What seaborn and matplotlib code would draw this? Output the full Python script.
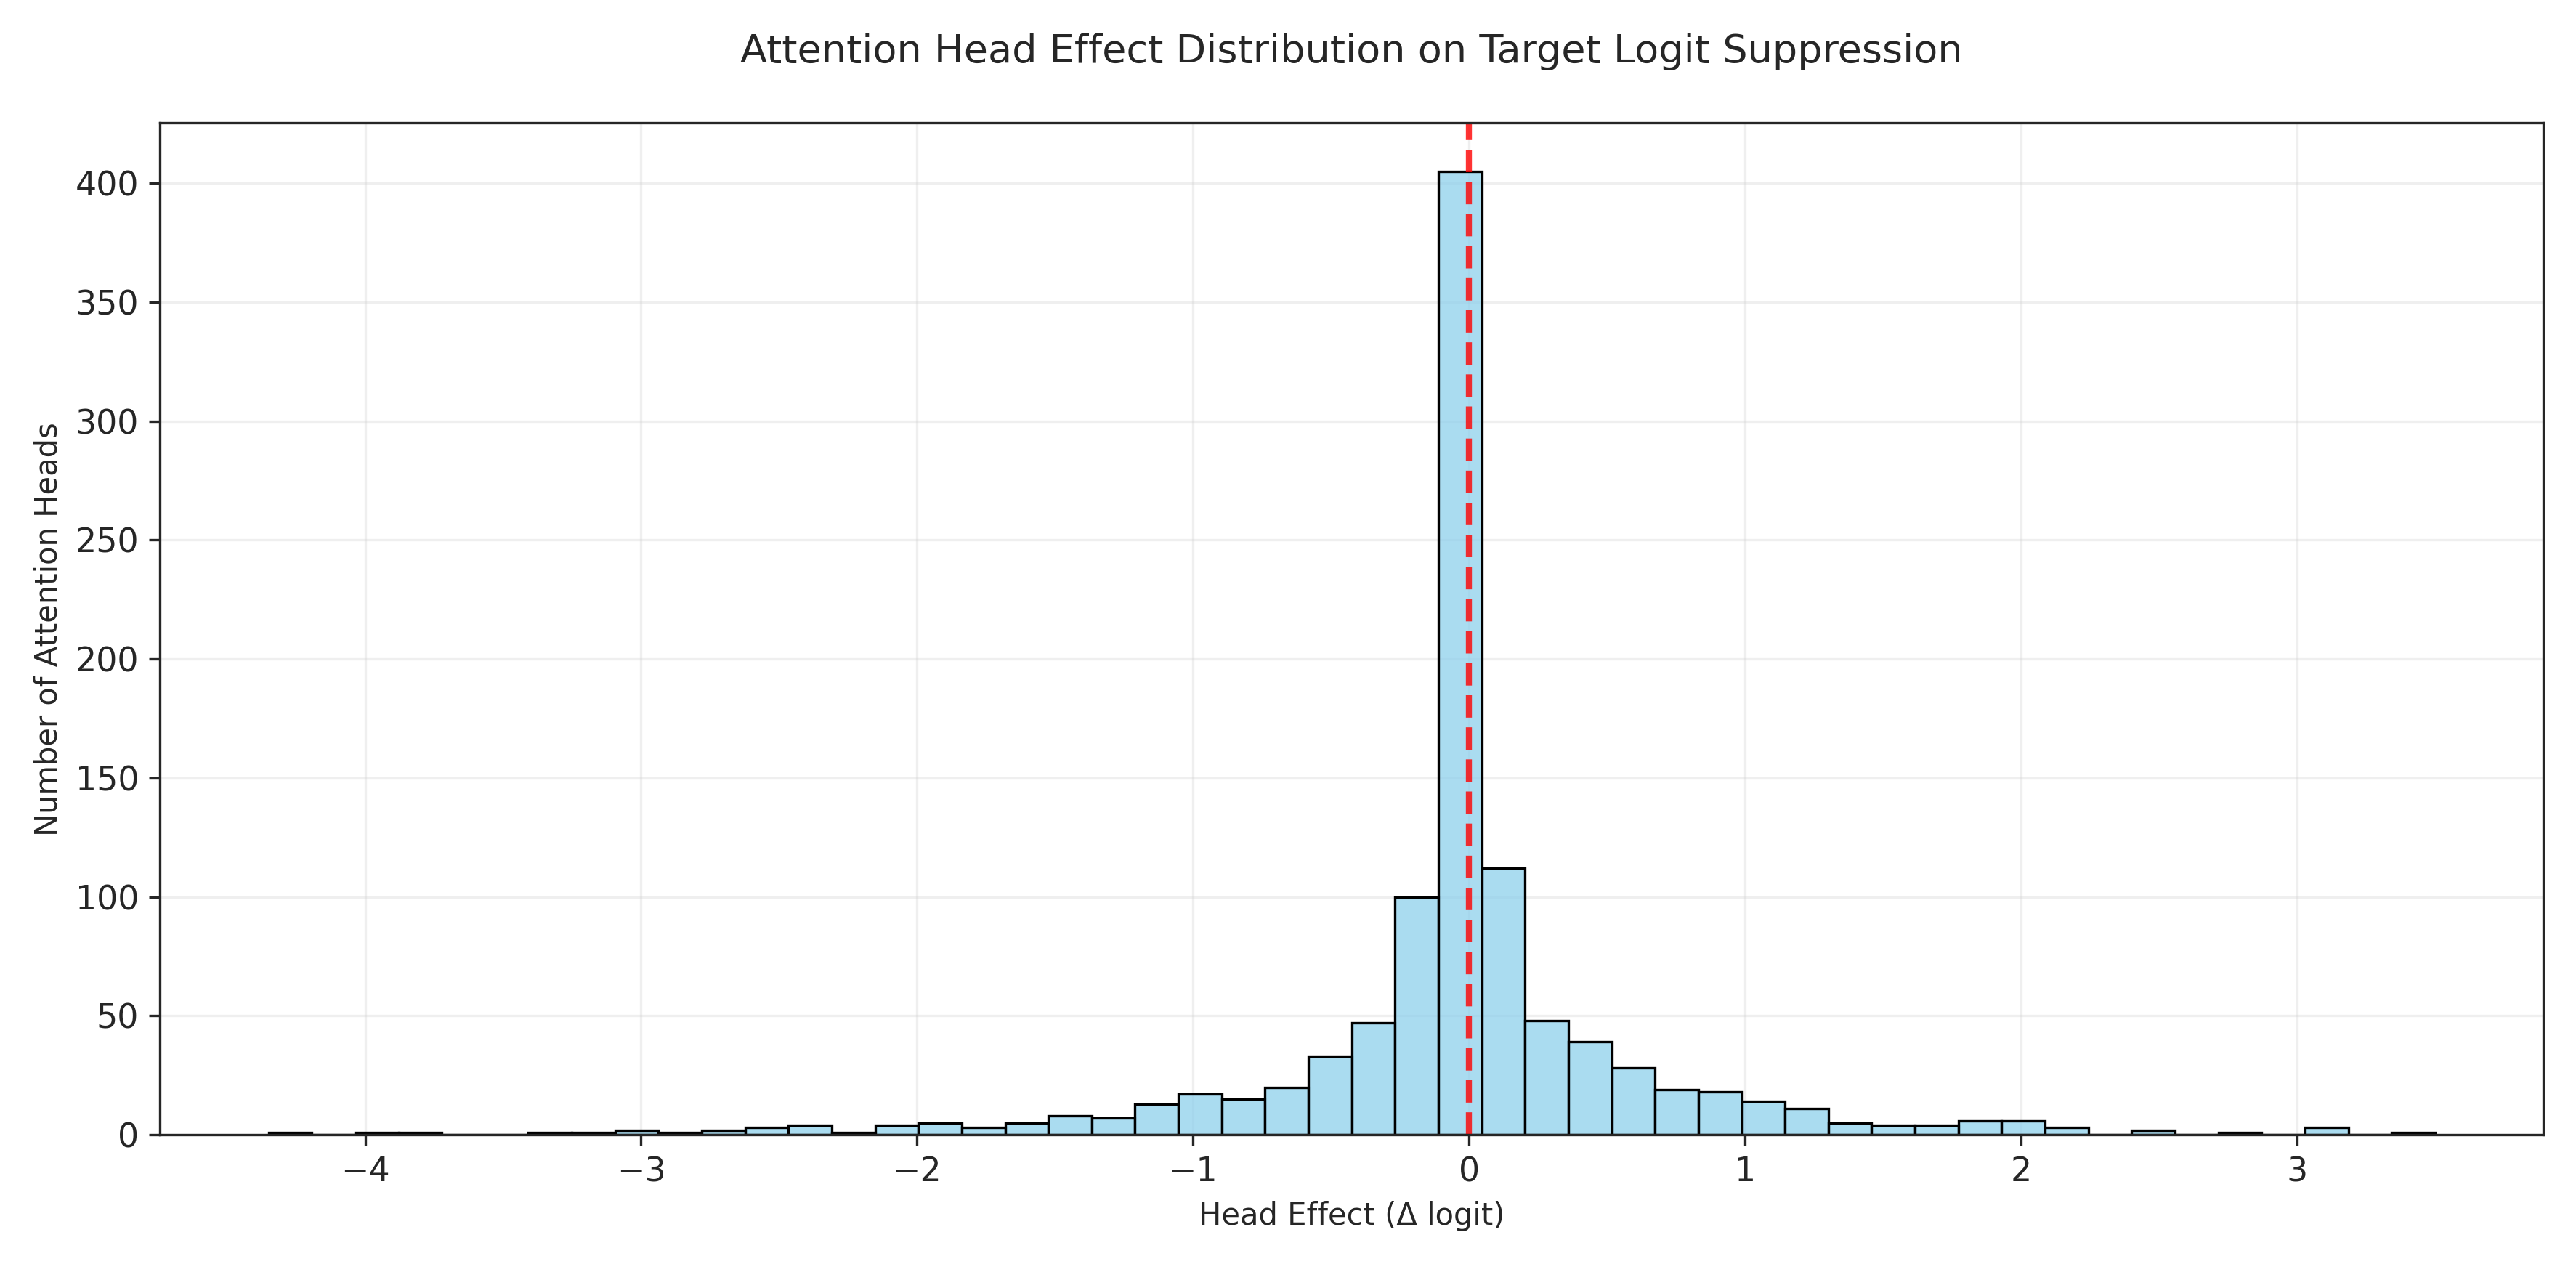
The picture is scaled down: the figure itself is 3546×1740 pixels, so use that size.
import numpy as np
import pandas as pd
import matplotlib
matplotlib.use('Agg')
import matplotlib.pyplot as plt
import seaborn as sns

# histogram: 50 bins from -4.35 to 3.50
bin_lo = -4.35
bin_hi = 3.50
counts = [1, 0, 1, 1, 0, 0, 1, 1, 2, 1,
          2, 3, 4, 1, 4, 5, 3, 5, 8, 7,
          13, 17, 15, 20, 33, 47, 100, 405, 112, 48,
          39, 28, 19, 18, 14, 11, 5, 4, 4, 6,
          6, 3, 0, 2, 0, 1, 0, 3, 0, 1]

edges = np.linspace(bin_lo, bin_hi, len(counts) + 1)
centers = (edges[:-1] + edges[1:]) / 2
df = pd.DataFrame({'effect': centers, 'n': counts})

sns.set_style('ticks')
fig, ax = plt.subplots(figsize=(11.82, 5.8), dpi=300)
sns.histplot(data=df, x='effect', weights='n', bins=len(counts),
             binrange=(bin_lo, bin_hi), color='skyblue',
             edgecolor='black', alpha=0.7, linewidth=0.8, ax=ax)
ax.axvline(0, color='red', linestyle='--', linewidth=2, alpha=0.8)
ax.grid(True, alpha=0.3)
ax.set_axisbelow(True)
ax.set_xlabel('Head Effect (Δ logit)')
ax.set_ylabel('Number of Attention Heads')
ax.set_title('Attention Head Effect Distribution on Target Logit Suppression', fontsize=13, pad=20)
ax.set_xticks([-4, -3, -2, -1, 0, 1, 2, 3])
ax.set_xticklabels(['−4', '−3', '−2', '−1', '0', '1', '2', '3'], fontsize=11)
ax.tick_params(axis='y', labelsize=11)
for s in ax.spines.values():
    s.set_visible(True)
plt.tight_layout()
plt.savefig('out.png', dpi=300)
